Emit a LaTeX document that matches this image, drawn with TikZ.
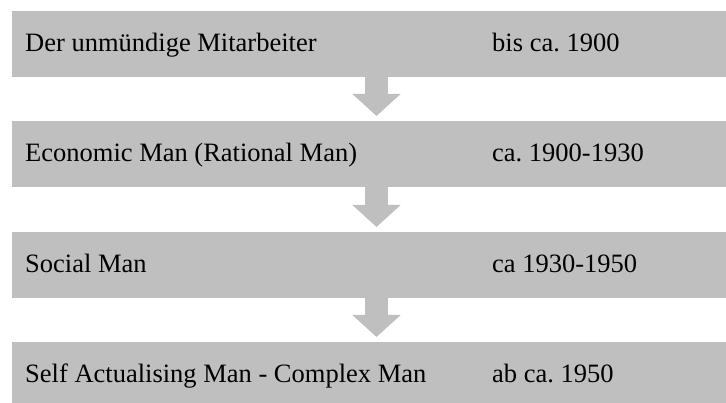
\documentclass[tikz,border=0pt]{standalone}
\usepackage{fontspec}
\setmainfont{Liberation Serif}
\frenchspacing
\usetikzlibrary{arrows.meta}
\definecolor{barg}{RGB}{191,191,191}
\tikzset{
  bar/.style={fill=barg, draw=none, minimum width=714pt, minimum height=66pt, inner sep=0pt, outer sep=0pt},
  lbl/.style={anchor=base west, inner sep=0pt, font=\fontsize{26.5}{30}\selectfont},
  flow/.style={draw=barg, line width=23pt, shorten >=5pt, -{Triangle[width=47pt,length=22pt]}}
}
\begin{document}
\begin{tikzpicture}[x=1pt,y=-1pt]
\useasboundingbox (0,0) rectangle (726,403);
\node[bar] (b1) at (369,44) {};
\node[bar] (b2) at (369,154) {};
\node[bar] (b3) at (369,265) {};
\node[bar] (b4) at (369,375) {};
\coordinate (ax) at (376.5,0);
\draw[flow] (b1.south -| ax) -- (b2.north -| ax);
\draw[flow] (b2.south -| ax) -- (b3.north -| ax);
\draw[flow] (b3.south -| ax) -- (b4.north -| ax);
\node[lbl] (l1) at (25,52) {Der unmündige Mitarbeiter};
\node[lbl] (r1) at (492,52) {bis ca. 1900};
\node[lbl] (l2) at (25,162) {Economic Man (Rational Man)};
\node[lbl] (r2) at (492,162) {ca. 1900-1930};
\node[lbl] (l3) at (25,273) {Social Man};
\node[lbl] (r3) at (492,273) {ca 1930-1950};
\node[lbl] (l4) at (25,383) {Self Actualising Man - Complex Man};
\node[lbl] (r4) at (492,383) {ab ca. 1950};
\end{tikzpicture}
\end{document}
